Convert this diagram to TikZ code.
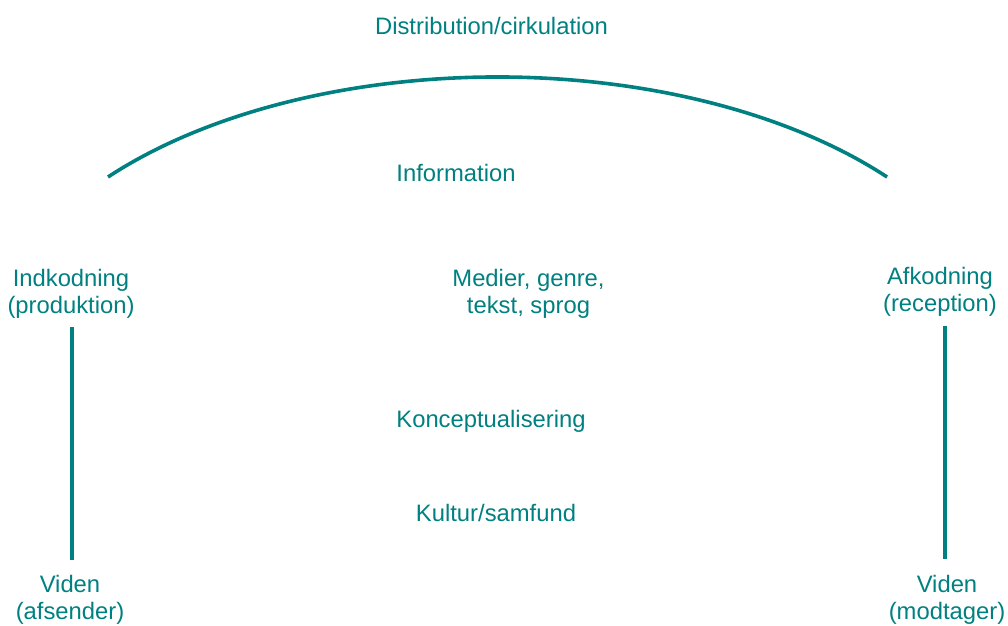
\documentclass[tikz,border=0pt]{standalone}
\usepackage{fontspec}
\setmainfont{Liberation Sans}
\definecolor{tealtext}{RGB}{0,128,128}

\tikzset{
  label/.style={text=tealtext,align=center,inner sep=0pt,
    font=\fontsize{23.8}{27}\selectfont,anchor=base},
  flow/.style={draw=tealtext,line width=3.6pt}
}

\begin{document}
\begin{tikzpicture}[x=1pt,y=1pt]
\useasboundingbox (0,0) rectangle (1008,625);

\node[label] (dist) at (491.5,590) {Distribution/cirkulation};
\node[label] (info) at (456,443) {Information};
\node[label] (indk) at (71,312) {Indkodning\\(produktion)};
\node[label] (medier) at (528.5,312) {Medier, genre,\\tekst, sprog};
\node[label] (afk) at (940,314) {Afkodning\\(reception)};
\node[label] (konc) at (491,198) {Konceptualisering};
\node[label] (kultur) at (496,104) {Kultur/samfund};
\node[label] (vidA) at (70,6) {Viden\\(afsender)};
\node[label] (vidM) at (947,6) {Viden\\(modtager)};

% bue over midten
\coordinate (arcL) at (108,448);
\draw[flow] (arcL) arc[start angle=140,end angle=40,x radius=508.5,y radius=280];

% lodrette linjer
\draw[flow] ([xshift=1pt,yshift=-9pt]indk.south) -- ([xshift=1pt,yshift=15pt]indk.south |- vidA.north);
\draw[flow] ([xshift=5pt,yshift=-10pt]afk.south) -- ([xshift=5pt,yshift=16pt]afk.south |- vidM.north);
\end{tikzpicture}
\end{document}
